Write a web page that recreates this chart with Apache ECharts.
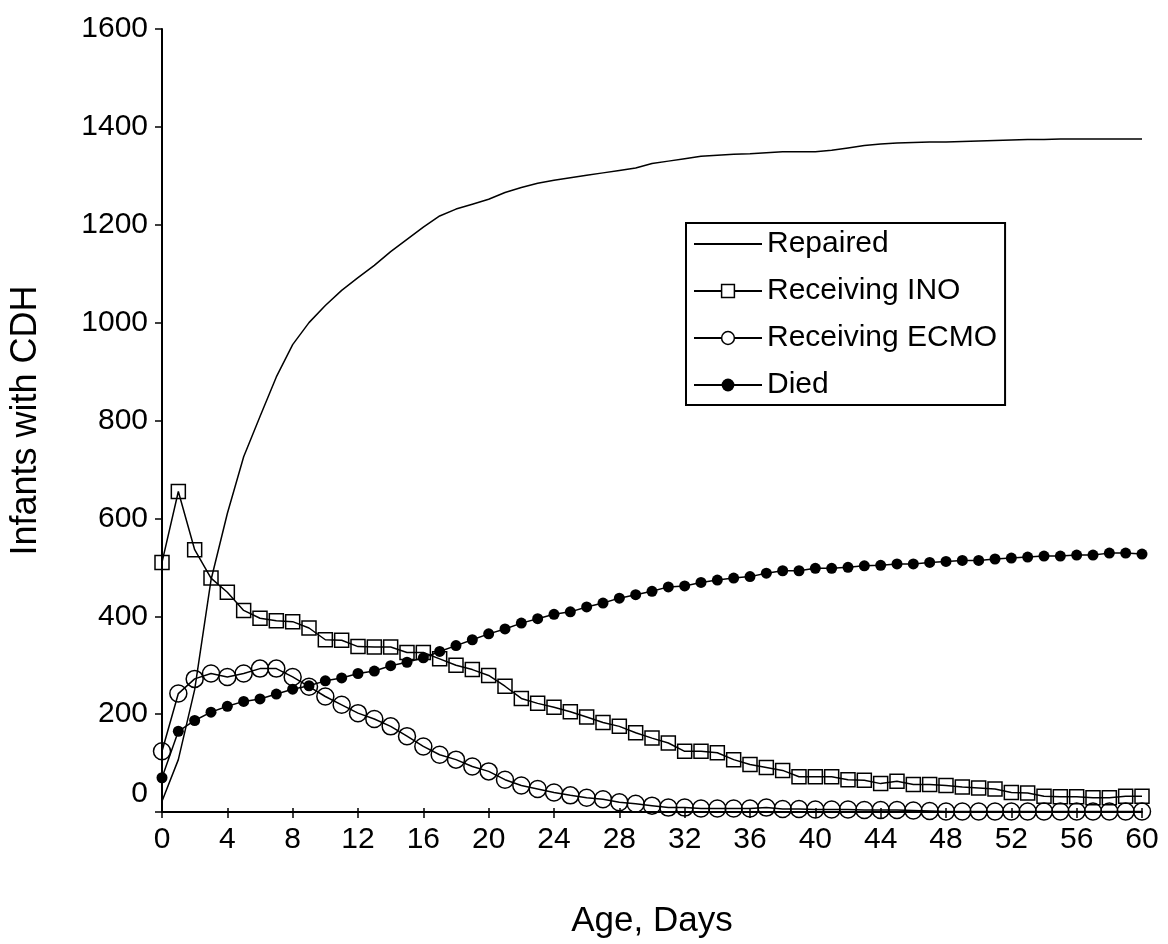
<!DOCTYPE html>
<html>
<head>
<meta charset="utf-8">
<script src="https://cdn.jsdelivr.net/npm/echarts@6/dist/echarts.min.js"></script>
<style>
html,body{margin:0;padding:0;background:#fff;}
#chart{width:1168px;height:944px;}
</style>
</head>
<body>
<div id="chart"></div>
<script>
const days = [0,1,2,3,4,5,6,7,8,9,10,11,12,13,14,15,16,17,18,19,20,21,22,23,24,25,26,27,28,29,30,31,32,33,34,35,36,37,38,39,40,41,42,43,44,45,46,47,48,49,50,51,52,53,54,55,56,57,58,59,60];
const yTicks = [0,200,400,600,800,1000,1200,1400,1600];
const xTicks = [0,4,8,12,16,20,24,28,32,36,40,44,48,52,56,60];

const repaired = [22,107,250,474,610,726,808,889,955,1000,
  1035,1066,1092,1117,1145,1170,1195,1218,1232,1242,
  1252,1266,1276,1285,1291,1296,1301,1306,1311,1316,
  1325,1330,1335,1340,1342,1344,1345,1347,1349,1349,
  1349,1352,1357,1362,1365,1367,1368,1369,1369,1370,
  1371,1372,1373,1374,1374,1375,1375,1375,1375,1375,1375];
const ino = [510,655,536,478,449,412,396,391,389,376,
  352,351,338,337,337,326,326,313,300,291,
  279,257,232,222,214,205,194,183,175,162,
  151,141,124,124,121,107,97,91,85,72,
  72,72,66,65,58,63,56,56,54,51,
  49,47,40,39,32,31,31,29,29,32,32];
const ecmo = [124,242,272,283,276,283,293,293,276,256,
  236,219,202,190,175,155,134,117,107,93,
  83,66,54,47,40,34,29,26,20,17,
  13,9,9,7,7,7,7,9,6,6,
  5,5,5,4,4,4,3,2,1,1,
  1,1,1,1,1,1,1,1,1,1,1];
const died = [70,165,187,204,216,226,231,241,251,258,
  268,274,283,288,299,306,315,328,340,352,
  364,374,386,395,404,409,419,427,437,444,
  451,460,462,469,474,478,481,488,493,493,
  498,498,500,503,504,507,507,510,512,514,
  514,517,519,521,523,523,525,525,529,529,527];

const FONT = '"Liberation Sans", Arial, sans-serif';
const pairs = arr => days.map((d, i) => [d, arr[i]]);

const chart = echarts.init(document.getElementById('chart'), null, {renderer: 'canvas'});
const axisLine = {show: true, lineStyle: {color: '#000', width: 2}};
chart.setOption({
  animation: false,
  backgroundColor: '#fff',
  grid: {left: 162, right: 26, top: 29, bottom: 132, containLabel: false},
  xAxis: [{
    type: 'value', min: xTicks[0], max: xTicks[xTicks.length - 1], interval: 4,
    position: 'bottom',
    name: 'Age, Days', nameLocation: 'middle', nameGap: 92,
    nameTextStyle: {fontSize: 35, color: '#000', fontFamily: FONT},
    axisLine: axisLine,
    axisTick: {show: true, length: 6, lineStyle: {color: '#000', width: 1.5}},
    axisLabel: {fontSize: 30, color: '#000', fontFamily: FONT, margin: 13},
    splitLine: {show: false}
  }, {
    type: 'value', min: xTicks[0], max: xTicks[xTicks.length - 1], interval: 4,
    position: 'bottom',
    axisLine: {show: false},
    axisTick: {show: true, inside: true, length: 4, lineStyle: {color: '#000', width: 1.5}},
    axisLabel: {show: false},
    splitLine: {show: false}
  }],
  yAxis: {
    type: 'value', min: yTicks[0], max: yTicks[yTicks.length - 1], interval: 200,
    name: 'Infants with CDH', nameLocation: 'middle', nameGap: 118,
    nameTextStyle: {fontSize: 36, color: '#000', fontFamily: FONT},
    axisLine: axisLine,
    axisTick: {show: true, length: 7, lineStyle: {color: '#000', width: 1.5}},
    axisLabel: {
      fontSize: 30, color: '#000', fontFamily: FONT, margin: 14,
      formatter: v => v === 0 ? '{z|0}' : String(v),
      rich: {z: {fontSize: 30, color: '#000', fontFamily: FONT, padding: [0, 0, 36, 0]}}
    },
    splitLine: {show: false}
  },
  legend: {
    orient: 'vertical', left: 686, top: 223,
    padding: [6, 8, 5, 7], itemGap: 17, itemWidth: 68, itemHeight: 16,
    borderColor: '#000', borderWidth: 2, backgroundColor: '#fff',
    textStyle: {fontSize: 30, color: '#000', fontFamily: FONT},
    data: [
      {name: 'Repaired', itemStyle: {opacity: 0}},
      {name: 'Receiving INO', itemStyle: {color: '#fff', borderColor: '#000', borderWidth: 1.5}},
      {name: 'Receiving ECMO', itemStyle: {color: '#fff', borderColor: '#000', borderWidth: 1.5}},
      {name: 'Died'}
    ]
  },
  series: [
    {
      name: 'Repaired', type: 'line', data: pairs(repaired),
      symbol: 'none', lineStyle: {color: '#000', width: 1.5}, itemStyle: {color: '#000'}
    },
    {
      name: 'Receiving INO', type: 'line', data: pairs(ino),
      symbol: 'rect', symbolSize: 14,
      lineStyle: {color: '#000', width: 1.5},
      itemStyle: {color: 'rgba(255,255,255,0)', borderColor: '#000', borderWidth: 1.5}
    },
    {
      name: 'Receiving ECMO', type: 'line', data: pairs(ecmo),
      symbol: 'circle', symbolSize: 17,
      lineStyle: {color: '#000', width: 1.5},
      itemStyle: {color: 'rgba(255,255,255,0)', borderColor: '#000', borderWidth: 1.5}
    },
    {
      name: 'Died', type: 'line', data: pairs(died),
      symbol: 'circle', symbolSize: 11,
      lineStyle: {color: '#000', width: 1.5},
      itemStyle: {color: '#000', borderColor: '#000', borderWidth: 0}
    }
  ]
});
</script>
</body>
</html>
